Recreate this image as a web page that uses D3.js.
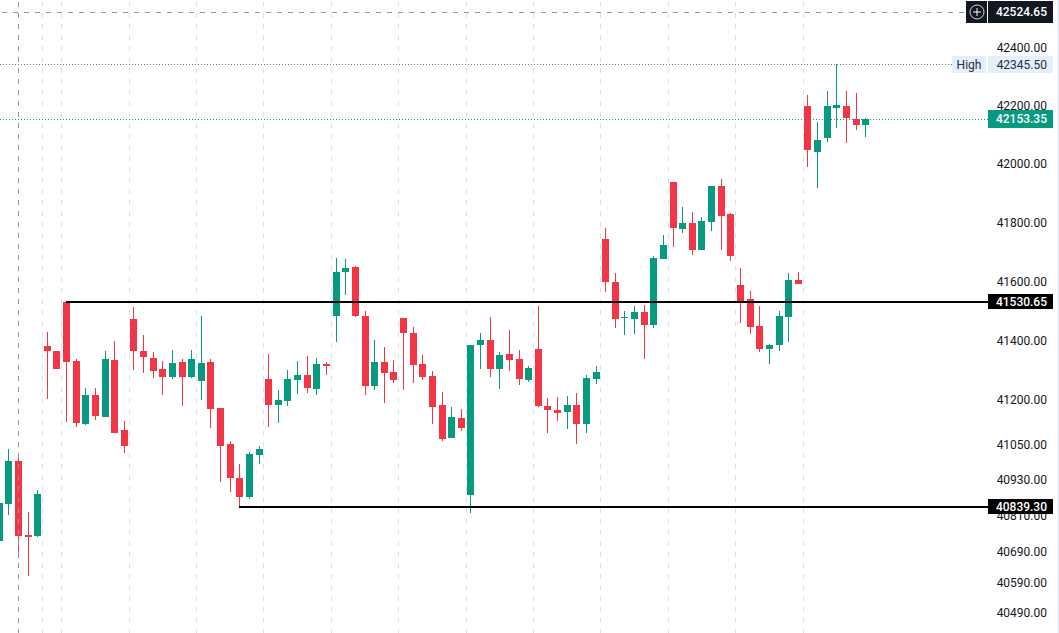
<!DOCTYPE html>
<html>
<head>
<meta charset="utf-8">
<script src="https://cdn.jsdelivr.net/npm/d3@7"></script>
<style>
html, body { margin: 0; padding: 0; background: #fff; overflow: hidden; }
svg { display: block; font-family: Roboto, sans-serif; font-size: 12px; }
</style>
</head>
<body>
<svg id="chart"></svg>
<script>
var width = 1059, height = 633

var opens = [40727.7,40850.8,40994.4,40747.7,40744.3,41381,41364.1,41530.65,41330.3,41118.3,41215.8,41141.9,41333.6,41098.2,41472.2,41364.1,41340.4,41303.3,41276.4,41326.9,41276.4,41262.9,41326.9,41172.1,41051.3,40937.6,40874.1,41014.4,41269.6,41182.2,41195.6,41266.3,41283.1,41236,41320.2,41482.4,41631.6,41648.6,41482.4,41246,41326.9,41293.2,41475.6,41424.9,41320.2,41279.7,41182.2,41071.4,41138.5,40880.8,41384.3,41401.2,41303.3,41354,41337,41266.3,41370.8,41178.8,41165.4,41158.7,41182.2,41118.3,41269.6,41744,41597.7,41475.6,41472.2,41495.9,41451.9,41675.9,41938.7,41778.1,41798.5,41706.5,41801.9,41925,41829.2,41587.5,41540,41448.6,41370.8,41384.3,41479,41604.5,42199.7,42041.5,42089.6,42192.8,42199.7,42155,42134.4]
var highs = [40860,41034.5,41004.4,40824.2,40897.5,41428.3,41364.1,41530.65,41337,41239.3,41239.3,41364.1,41397.9,41128.4,41512.9,41418.1,41360.7,41330.3,41367.5,41337,41367.5,41482.4,41337,41172.1,41061.3,40984.4,41024.5,41044.6,41354,41232.6,41300,41330.3,41347.1,41340.4,41326.9,41679.3,41675.9,41652,41499.3,41401.2,41377.6,41333.6,41475.6,41445.2,41350.5,41296.6,41225.9,41175.4,41168.7,41384.3,41424.9,41479,41360.7,41435,41367.5,41313.4,41516.3,41205.7,41209,41212.4,41222.5,41283.1,41313.4,41781.5,41628.2,41499.3,41516.3,41519.7,41686.1,41757.6,41938.7,41853.1,41836,41819,41925,41948.9,41832.6,41645.2,41567.1,41516.3,41387.7,41499.3,41628.2,41631.6,42237.7,42144.6,42251.5,42345.5,42251.5,42244.6,42158.4]
var lows = [40720,40814.2,40671.2,40611.5,40741,41202.3,41303.3,41125.1,41108.3,41114.9,41131.8,41141.9,41088.1,41021.1,41300,41289.8,41273,41215.8,41269.6,41178.8,41273,41199,41104.9,40924.2,40890.9,40839.3,40867.5,40984.4,41108.3,41121.7,41178.8,41219.1,41222.5,41215.8,41283.1,41394.5,41553.6,41479,41215.8,41232.6,41188.9,41256.2,41232.6,41256.2,41266.3,41118.3,41061.3,41071.4,41094.8,40820.9,41303.3,41276.4,41236,41296.6,41249.4,41259.6,41175.4,41088.1,41128.4,41101.5,41051.3,41088.1,41252.8,41563.7,41441.8,41418.1,41421.5,41337,41441.8,41675.9,41716.7,41764.5,41689.5,41706.5,41771.3,41706.5,41669,41458.7,41421.5,41360.7,41320.2,41364.1,41394.5,41590.9,41990,41918.1,42075.9,42124,42072.4,42117.1,42093]
var closes = [40854.1,40994.4,40744.3,40741,40884.2,41364.1,41303.3,41326.9,41121.7,41215.8,41145.2,41337,41088.1,41044.6,41364.1,41343.8,41296.6,41276.4,41323.5,41276.4,41337,41323.5,41168.7,41044.6,40937.6,40874.1,41017.8,41034.5,41182.2,41199,41269.6,41283.1,41239.3,41320.2,41313.4,41631.6,41645.2,41482.4,41246,41326.9,41289.8,41266.3,41424.9,41316.8,41276.4,41175.4,41068,41141.9,41104.9,41384.3,41401.2,41303.3,41350.5,41333.6,41269.6,41306.7,41178.8,41165.4,41155.3,41182.2,41118.3,41273,41293.2,41597.7,41472.2,41479,41495.9,41451.9,41679.3,41723.5,41781.5,41798.5,41706.5,41805.3,41925,41822.4,41686.1,41529.8,41445.2,41370.8,41384.3,41482.4,41604.5,41590.9,42048.3,42082.7,42199.7,42203.1,42158.4,42134.4,42153.35]

var tickValues = [42400,42200,42000,41800,41600,41400,41200,41050,40930,40810,40690,40590,40490]
var sessionBreaks = [4.5,6.5,13.5,20.5,27.5,34.5,41.5,48.5,55.5,62.5,69.5,76.5,83.5]
var crosshairIndex = 2
var crosshairPrice = 42524.65
var highPrice = 42345.5
var lastPrice = 42153.35
var levelPrices = [41530.65, 40839.3]
var levelStarts = [7, 25]

var red = "#f23645", green = "#089981", ink = "#131722"

var svg = d3.select("#chart")
    .attr("width", width)
    .attr("height", height)
    .style("background", "#fff")

var x = d3.scaleLinear().domain([0, 90]).range([-0.85, 865.67])
var y = d3.scaleLog().domain([40490, 42400]).range([612.5, 48])

var fmt = d3.format(".2f")
var px = function(v) { return Math.floor(x(v)) + 0.5 }
var py = function(v) { return Math.round(y(v)) }

// vertical session lines
svg.append("g").selectAll("line")
    .data(sessionBreaks)
    .enter()
    .append("line")
        .attr("x1", px).attr("x2", px)
        .attr("y1", 2).attr("y2", height)
        .attr("stroke", "#d5e2f6")
        .attr("stroke-dasharray", "5 6")

// candles
var candles = svg.append("g").selectAll("g")
    .data(d3.range(opens.length))
    .enter()
    .append("g")
    .attr("fill", function(i) { return closes[i] >= opens[i] ? green : red })
candles.append("rect")
    .attr("x", function(i) { return Math.floor(x(i)) })
    .attr("width", 1)
    .attr("y", function(i) { return py(highs[i]) })
    .attr("height", function(i) { return py(lows[i]) - py(highs[i]) })
candles.append("rect")
    .attr("x", function(i) { return Math.floor(x(i)) - 3 })
    .attr("width", 7)
    .attr("y", function(i) { return py(Math.max(opens[i], closes[i])) })
    .attr("height", function(i) { return Math.max(1, py(Math.min(opens[i], closes[i])) - py(Math.max(opens[i], closes[i]))) })

// crosshair
svg.append("line")
    .attr("x1", px(crosshairIndex)).attr("x2", px(crosshairIndex))
    .attr("y1", 2).attr("y2", height)
    .attr("stroke", "#9598a1")
    .attr("stroke-dasharray", "5 6")
svg.append("line")
    .attr("x1", 2).attr("x2", 966)
    .attr("y1", py(crosshairPrice) + 0.5).attr("y2", py(crosshairPrice) + 0.5)
    .attr("stroke", "#9598a1")
    .attr("stroke-dasharray", "5 6")

// high and last price lines
svg.append("line")
    .attr("x1", 0).attr("x2", 952)
    .attr("y1", py(highPrice) + 0.5).attr("y2", py(highPrice) + 0.5)
    .attr("stroke", "#787b86")
    .attr("stroke-dasharray", "1 2")
svg.append("line")
    .attr("x1", 0).attr("x2", 988)
    .attr("y1", py(lastPrice) + 0.5).attr("y2", py(lastPrice) + 0.5)
    .attr("stroke", green)
    .attr("stroke-dasharray", "1 2")

// horizontal rays
svg.append("g").selectAll("rect")
    .data(levelPrices)
    .enter()
    .append("rect")
        .attr("x", function(d, i) { return Math.floor(x(levelStarts[i])) })
        .attr("width", function(d, i) { return 988 - Math.floor(x(levelStarts[i])) })
        .attr("y", function(d) { return py(d) - 1 })
        .attr("height", 2)
        .attr("fill", "#000")

// price axis
var axis = svg.append("g")
    .attr("transform", "translate(1047,0)")
    .call(d3.axisRight(y).tickValues(tickValues).tickFormat(fmt).tickSize(0).tickPadding(0))
axis.select(".domain").remove()
axis.selectAll("text")
    .attr("text-anchor", "end")
    .attr("fill", ink)
    .attr("font-size", 12)
    .attr("font-family", "Roboto, sans-serif")

svg.append("rect")
    .attr("x", 1058).attr("y", 0)
    .attr("width", 1).attr("height", height)
    .attr("fill", "#e0e3eb")

function priceLabel(value, top, h, bg, color, weight) {
    svg.append("rect")
        .attr("x", 988).attr("y", top)
        .attr("width", 65).attr("height", h)
        .attr("fill", bg)
    svg.append("text")
        .attr("x", 1047)
        .attr("y", top + h / 2)
        .attr("dy", "0.35em")
        .attr("text-anchor", "end")
        .attr("fill", color)
        .attr("font-weight", weight)
        .text(fmt(value))
}

// plus button
svg.append("rect")
    .attr("x", 966).attr("y", 1)
    .attr("width", 21).attr("height", 22)
    .attr("fill", ink)
svg.append("circle")
    .attr("cx", 977).attr("cy", 12).attr("r", 7)
    .attr("fill", "none").attr("stroke", "#d1d4dc")
svg.append("path")
    .attr("d", "M973 12H981M977 8V16")
    .attr("stroke", "#fff")
priceLabel(crosshairPrice, 1, 22, ink, "#fff", 500)

// high tag
svg.append("rect")
    .attr("x", 952).attr("y", 56)
    .attr("width", 34).attr("height", 17)
    .attr("fill", "#e3effd")
svg.append("text")
    .attr("x", 969).attr("y", 64.5)
    .attr("dy", "0.35em")
    .attr("text-anchor", "middle")
    .attr("fill", "#2a2e39")
    .text("High")
priceLabel(highPrice, 56, 17, "#e3effd", "#2a2e39", 400)

priceLabel(lastPrice, 110, 18, green, "#fff", 500)
priceLabel(levelPrices[0], 294, 15, "#000", "#fff", 500)
priceLabel(levelPrices[1], 499, 15, "#000", "#fff", 500)
</script>
</body>
</html>
